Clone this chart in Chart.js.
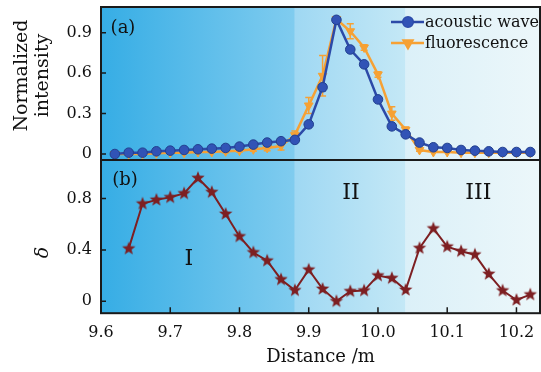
<!DOCTYPE html>
<html>
<head>
<meta charset="utf-8">
<script src="https://cdn.jsdelivr.net/npm/chart.js@4.4.1/dist/chart.umd.min.js"></script>
<style>
  html, body { margin: 0; padding: 0; background: #fff; }
</style>
</head>
<body>
<canvas id="c" width="541" height="372"></canvas>
<script>
// ---- data ----
const distance = [9.62, 9.64, 9.66, 9.68, 9.70, 9.72, 9.74, 9.76, 9.78, 9.80, 9.82, 9.84, 9.86, 9.88, 9.90,
  9.92, 9.94, 9.96, 9.98, 10.00, 10.02, 10.04, 10.06, 10.08, 10.10, 10.12, 10.14, 10.16, 10.18, 10.20, 10.22]
const acoustic = [0.00, 0.01, 0.01, 0.02, 0.025, 0.03, 0.035, 0.04, 0.045, 0.055, 0.07, 0.085, 0.095, 0.105, 0.22,
  0.495, 0.995, 0.775, 0.665, 0.405, 0.205, 0.146, 0.085, 0.05, 0.045, 0.03, 0.025, 0.02, 0.015, 0.015, 0.015]
const acousticErr = [0, 0, 0, 0, 0, 0, 0, 0, 0, 0, 0, 0, 0, 0, 0.01,
  0.025, 0.01, 0.02, 0.02, 0.01, 0, 0, 0, 0, 0, 0, 0, 0, 0, 0, 0]
const fluorescence = [0.0, 0.0, 0.0, 0.005, 0.01, 0.01, 0.015, 0.015, 0.02, 0.025, 0.035, 0.045, 0.06, 0.14, 0.36,
  0.58, 1.0, 0.91, 0.79, 0.59, 0.30, 0.18, 0.03, 0.015, 0.015, 0.01, 0.01, 0.01, 0.01, 0.01, 0.01]
const fluorescenceErr = [0, 0, 0, 0, 0, 0, 0, 0, 0.01, 0.01, 0.015, 0.02, 0.03, 0.03, 0.06,
  0.15, 0.01, 0.055, 0.02, 0.02, 0.05, 0.02, 0.01, 0, 0, 0, 0, 0, 0, 0, 0]

const deltaDistance = [9.64, 9.66, 9.68, 9.70, 9.72, 9.74, 9.76, 9.78, 9.80, 9.82, 9.84, 9.86, 9.88, 9.90, 9.92,
  9.94, 9.96, 9.98, 10.00, 10.02, 10.04, 10.06, 10.08, 10.10, 10.12, 10.14, 10.16, 10.18, 10.20, 10.22]
const delta = [0.41, 0.76, 0.79, 0.81, 0.84, 0.96, 0.85, 0.68, 0.505, 0.38, 0.316, 0.17, 0.085, 0.246, 0.096,
  0.0, 0.078, 0.083, 0.2, 0.18, 0.088, 0.414, 0.567, 0.425, 0.39, 0.363, 0.212, 0.083, 0.01, 0.052]

const xTicks = [9.6, 9.7, 9.8, 9.9, 10.0, 10.1, 10.2]
const intensityTicks = [0, 0.3, 0.6, 0.9]
const deltaTicks = [0, 0.4, 0.8]

// region boundaries (m) and the roman labels in panel (b)
const regionEdges = [9.88, 10.04]
const regionLabels = ['I', 'II', 'III']
const regionLabelX = [9.727, 9.961, 10.145]
const regionLabelY = [0.326, 0.84, 0.84]

const SERIF = '"DejaVu Serif", "Liberation Serif", serif'
const BLUE = '#2c4aa8'
const ORANGE = '#f6a134'
const RED = '#7d1f22'

// filled 5-point star marker (chart.js 'star' is an asterisk)
function makeStar(r, color) {
  const c = document.createElement('canvas')
  c.width = c.height = Math.ceil(r * 2 + 2)
  const g = c.getContext('2d')
  const cx = c.width / 2, cy = c.height / 2
  g.beginPath()
  for (let i = 0; i < 10; i++) {
    const rad = i % 2 === 0 ? r : r * 0.42
    const a = -Math.PI / 2 + i * Math.PI / 5
    g.lineTo(cx + rad * Math.cos(a), cy + rad * Math.sin(a))
  }
  g.closePath()
  g.fillStyle = color
  g.fill()
  return c
}
const starImg = makeStar(7, RED)

const bgPlugin = {
  id: 'bg',
  beforeDraw(chart) {
    const { ctx, chartArea: a, scales } = chart
    const x1 = scales.x.getPixelForValue(regionEdges[0])
    const x2 = scales.x.getPixelForValue(regionEdges[1])
    const bands = [
      [a.left, x1, '#36ade5', '#80ccef'],
      [x1, x2, '#9fd8f3', '#c4e8f6'],
      [x2, a.right, '#dbf0f8', '#ecf7fa']
    ]
    ctx.save()
    bands.forEach(([l, r, c1, c2]) => {
      const g = ctx.createLinearGradient(l, 0, r, 0)
      g.addColorStop(0, c1)
      g.addColorStop(1, c2)
      ctx.fillStyle = g
      ctx.fillRect(l, a.top, r - l, a.bottom - a.top)
    })
    ctx.restore()
  },
  beforeDatasetsDraw(chart) {
    // error bars
    const { ctx } = chart
    ctx.save()
    chart.data.datasets.forEach((ds, i) => {
      if (!ds.errors) return
      const meta = chart.getDatasetMeta(i)
      const ys = chart.scales[ds.yAxisID]
      ctx.strokeStyle = ds.borderColor
      ctx.lineWidth = 1.5
      ds.data.forEach((p, j) => {
        const e = ds.errors[j]
        if (!e) return
        const x = meta.data[j].x
        const yt = ys.getPixelForValue(p.y + e)
        const yb = ys.getPixelForValue(p.y - e)
        ctx.beginPath()
        ctx.moveTo(x, yt); ctx.lineTo(x, yb)
        ctx.moveTo(x - 3.5, yt); ctx.lineTo(x + 3.5, yt)
        ctx.moveTo(x - 3.5, yb); ctx.lineTo(x + 3.5, yb)
        ctx.stroke()
      })
    })
    ctx.restore()
  },
  afterDraw(chart) {
    const { ctx, chartArea: a, scales } = chart
    ctx.save()
    // frame, panel divider, inward ticks
    ctx.strokeStyle = '#1a1a1a'
    ctx.lineWidth = 2
    ctx.strokeRect(a.left, a.top, a.right - a.left, a.bottom - a.top)
    const mid = scales.yA.bottom
    ctx.beginPath(); ctx.moveTo(a.left, mid); ctx.lineTo(a.right, mid); ctx.stroke()
    ctx.lineWidth = 1.5
    ctx.beginPath()
    ;['yA', 'yB'].forEach(id => {
      scales[id].ticks.forEach(t => {
        const y = scales[id].getPixelForValue(t.value)
        ctx.moveTo(a.left, y); ctx.lineTo(a.left + 5, y)
      })
    })
    scales.x.ticks.forEach(t => {
      const x = scales.x.getPixelForValue(t.value)
      ctx.moveTo(x, a.bottom); ctx.lineTo(x, a.bottom - 6)
    })
    ctx.stroke()

    // panel tags and region labels
    ctx.fillStyle = '#111'
    ctx.font = '18px ' + SERIF
    ctx.textAlign = 'center'
    ctx.textBaseline = 'middle'
    ctx.fillText('(a)', a.left + 22, scales.yA.top + 21)
    ctx.fillText('(b)', a.left + 24, scales.yB.top + 20)
    ctx.font = '22px ' + SERIF
    regionLabels.forEach((t, i) => {
      ctx.fillText(t, scales.x.getPixelForValue(regionLabelX[i]), scales.yB.getPixelForValue(regionLabelY[i]))
    })

    // y-axis titles
    ctx.font = '19px ' + SERIF
    ctx.save()
    ctx.translate(22, (scales.yA.top + scales.yA.bottom) / 2 - 8)
    ctx.rotate(-Math.PI / 2)
    ctx.fillText('Normalized', 0, 0)
    ctx.fillText('intensity', 0, 21)
    ctx.restore()
    ctx.save()
    ctx.translate(43, scales.yB.getPixelForValue(0.38))
    ctx.rotate(-Math.PI / 2)
    ctx.font = 'italic 19px ' + SERIF
    ctx.fillText('\u03b4', 0, 0)
    ctx.restore()

    // legend
    ctx.font = '16px ' + SERIF
    ctx.textAlign = 'left'
    const rows = [[0, 22], [1, 43]]
    rows.forEach(([i, y]) => {
      const ds = chart.data.datasets[i]
      ctx.strokeStyle = ds.borderColor
      ctx.lineWidth = 2.5
      ctx.beginPath(); ctx.moveTo(391, y); ctx.lineTo(424, y); ctx.stroke()
      Chart.helpers.drawPoint(ctx, {
        pointStyle: ds.pointStyle, rotation: ds.pointRotation || 0,
        radius: ds.pointRadius, borderWidth: 1
      }, 408, y)
      ctx.fillStyle = ds.pointBackgroundColor
      ctx.fill()
      ctx.fillStyle = '#111'
      ctx.fillText(ds.label, 425, y + 1)
    })
    ctx.restore()
  }
}

const tickFont = { family: SERIF, size: 16 }
const fmt = v => (v === 0 ? '0' : v.toFixed(1))
const noPadY = s => { s.width = 101; s.paddingTop = 0; s.paddingBottom = 0 }

new Chart(document.getElementById('c'), {
  type: 'line',
  data: {
    datasets: [
      {
        label: 'acoustic wave',
        data: distance.map((x, i) => ({ x, y: acoustic[i] })),
        errors: acousticErr,
        yAxisID: 'yA',
        borderColor: BLUE,
        borderWidth: 2.5,
        pointStyle: 'circle',
        pointRadius: 4.8,
        pointBackgroundColor: '#3153b6',
        pointBorderColor: '#22408f',
        pointBorderWidth: 1
      },
      {
        label: 'fluorescence',
        data: distance.map((x, i) => ({ x, y: fluorescence[i] })),
        errors: fluorescenceErr,
        yAxisID: 'yA',
        borderColor: ORANGE,
        borderWidth: 2.5,
        pointStyle: 'triangle',
        pointRotation: 180,
        pointRadius: 5,
        pointBackgroundColor: ORANGE,
        pointBorderColor: ORANGE,
        pointBorderWidth: 1
      },
      {
        label: 'delta',
        data: deltaDistance.map((x, i) => ({ x, y: delta[i] })),
        yAxisID: 'yB',
        borderColor: RED,
        borderWidth: 2,
        pointStyle: starImg
      }
    ]
  },
  options: {
    responsive: false,
    animation: false,
    devicePixelRatio: 1,
    layout: { autoPadding: false, padding: { top: 7, right: 1, left: 0, bottom: 4 } },
    plugins: { legend: { display: false }, tooltip: { enabled: false } },
    scales: {
      x: {
        type: 'linear',
        position: 'bottom',
        min: 9.6,
        max: 10.234,
        afterBuildTicks: s => { s.ticks = xTicks.map(v => ({ value: v })) },
        afterFit: s => { s.paddingLeft = 0; s.paddingRight = 0 },
        ticks: { font: tickFont, color: '#111', padding: 10, maxRotation: 0, autoSkip: false, callback: v => v.toFixed(1) },
        grid: { display: false, drawTicks: false },
        border: { display: false },
        title: { display: true, text: 'Distance /m', color: '#111', font: { family: SERIF, size: 18 }, padding: { top: -6, bottom: 0 } }
      },
      yB: {
        type: 'linear',
        position: 'left',
        stack: 'panels',
        stackWeight: 1,
        min: -0.093,
        max: 1.10,
        afterBuildTicks: s => { s.ticks = deltaTicks.map(v => ({ value: v })) },
        afterFit: noPadY,
        ticks: { font: tickFont, color: '#111', padding: 9, callback: fmt },
        grid: { display: false, drawTicks: false },
        border: { display: false }
      },
      yA: {
        type: 'linear',
        position: 'left',
        stack: 'panels',
        stackWeight: 1,
        min: -0.045,
        max: 1.09,
        afterBuildTicks: s => { s.ticks = intensityTicks.map(v => ({ value: v })) },
        afterFit: noPadY,
        ticks: { font: tickFont, color: '#111', padding: 9, callback: fmt },
        grid: { display: false, drawTicks: false },
        border: { display: false }
      }
    }
  },
  plugins: [bgPlugin]
})
</script>
</body>
</html>
